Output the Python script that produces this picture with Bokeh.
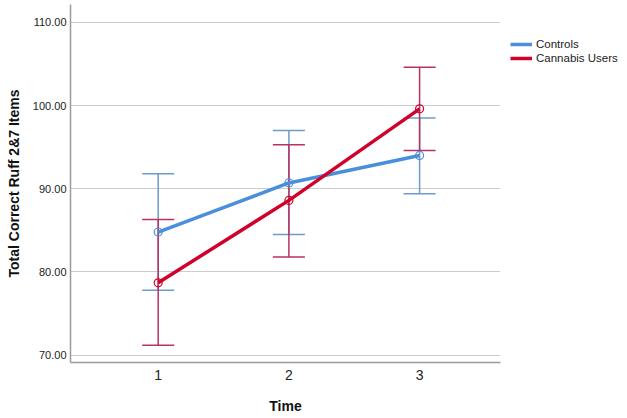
from bokeh.plotting import figure
from bokeh.models import ColumnDataSource, Whisker, TeeHead, Legend, LegendItem, Range1d, FixedTicker, NumeralTickFormatter
from bokeh.embed import file_html
from bokeh.resources import INLINE

time = [1, 2, 3]
controls_mean = [84.8, 90.7, 94.0]
controls_lower = [77.8, 84.5, 89.4]
controls_upper = [91.8, 97.0, 98.5]
cannabis_mean = [78.7, 88.6, 99.6]
cannabis_lower = [71.2, 81.8, 94.6]
cannabis_upper = [86.3, 95.3, 104.6]
y_ticks = [70, 80, 90, 100, 110]
x_ticks = [1, 2, 3]

FONT = "Liberation Sans"
BLUE = "#4a8fdc"
BLUE_BAR = "#6c9cc9"
RED = "#d0012a"
RED_BAR = "#b93262"

p = figure(frame_width=430, frame_height=358, output_backend="svg", toolbar_location=None,
           x_range=Range1d(0.329, 3.619), y_range=Range1d(69.12, 112.14),
           min_border_left=70, min_border_right=0, min_border_top=4, min_border_bottom=0)
p.outline_line_color = None
p.background_fill_color = "white"
p.border_fill_color = "white"

p.xgrid.visible = False
p.ygrid.grid_line_color = "#cccccc"
p.ygrid.grid_line_width = 1.2

p.yaxis.ticker = FixedTicker(ticks=y_ticks)
p.yaxis.formatter = NumeralTickFormatter(format="0.00")
p.xaxis.ticker = FixedTicker(ticks=x_ticks)
for ax in (p.xaxis, p.yaxis):
    ax.axis_line_color = "#9a9a9a"
    ax.axis_line_width = 1.5
    ax.major_tick_line_color = None
    ax.minor_tick_line_color = None
    ax.major_tick_out = 0
    ax.major_tick_in = 0
    ax.minor_tick_out = 0
    ax.major_label_text_font = FONT
    ax.major_label_text_color = "#222222"
    ax.axis_label_text_font = FONT
    ax.axis_label_text_font_style = "bold"
    ax.axis_label_text_color = "#111111"
    ax.axis_label_text_font_size = "14px"

p.yaxis.major_label_text_font_size = "11px"
p.yaxis.major_label_standoff = 4
p.yaxis.axis_label = "Total Correct Ruff 2&7 Items"
p.yaxis.axis_label_standoff = 8
p.xaxis.major_label_text_font_size = "14px"
p.xaxis.major_label_standoff = 7
p.xaxis.axis_label = "Time"
p.xaxis.axis_label_standoff = 15

src_c = ColumnDataSource(dict(x=time, m=controls_mean, lo=controls_lower, hi=controls_upper))
src_k = ColumnDataSource(dict(x=time, m=cannabis_mean, lo=cannabis_lower, hi=cannabis_upper))

for src, col in ((src_c, BLUE_BAR), (src_k, RED_BAR)):
    w = Whisker(source=src, base="x", upper="hi", lower="lo",
                line_color=col, line_width=1.5,
                upper_head=TeeHead(size=32, line_color=col, line_width=1.5),
                lower_head=TeeHead(size=32, line_color=col, line_width=1.5))
    p.add_layout(w)

lc = p.line("x", "m", source=src_c, line_color=BLUE, line_width=3.5)
p.scatter("x", "m", source=src_c, marker="circle", size=8, fill_color=None, line_color=BLUE, line_width=1.2)
lk = p.line("x", "m", source=src_k, line_color=RED, line_width=3.5)
p.scatter("x", "m", source=src_k, marker="circle", size=8, fill_color=None, line_color=RED, line_width=1.2)

legend = Legend(items=[LegendItem(label="Controls", renderers=[lc]),
                       LegendItem(label="Cannabis Users", renderers=[lk])],
                location="top_left", padding=0, margin=10, spacing=0,
                glyph_width=22, glyph_height=14, label_standoff=4,
                label_text_font=FONT, label_text_font_size="11.5px",
                label_text_color="#222222", border_line_color=None,
                background_fill_alpha=0,
                title=" ", title_text_font_size="18px", title_standoff=2)
p.add_layout(legend, "right")

open("out.html", "w").write(file_html(p, INLINE))
